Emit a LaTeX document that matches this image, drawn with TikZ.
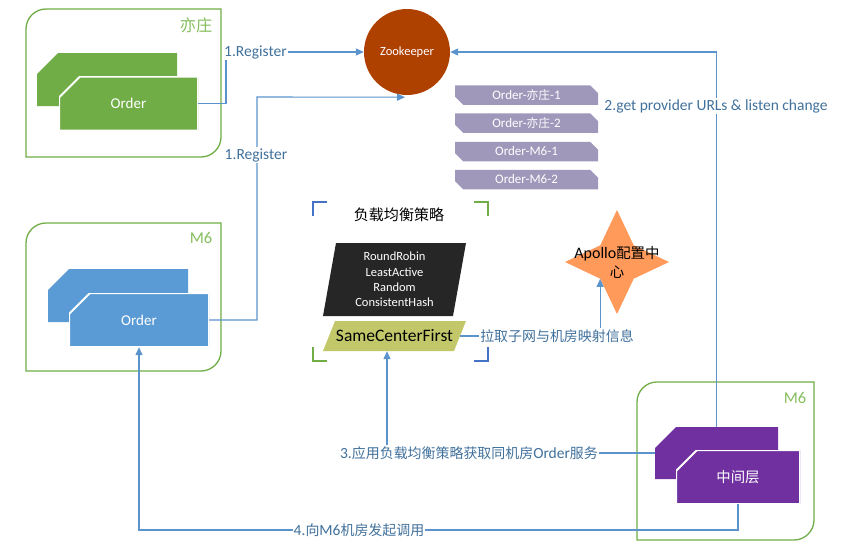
\documentclass[tikz,border=0pt]{standalone}
\usepackage{fontspec}
\setmainfont{Carlito}
\newfontfamily\cjk[Scale=0.9]{Noto Sans CJK SC}
\usetikzlibrary{shapes.geometric, arrows.meta}

\definecolor{roomgreen}{HTML}{70AD47}
\definecolor{roomtext}{HTML}{86BE5E}
\definecolor{ordergreen}{HTML}{70AD47}
\definecolor{orderblue}{HTML}{5B9BD5}
\definecolor{midpurple}{HTML}{7030A0}
\definecolor{zkbrown}{HTML}{AE4000}
\definecolor{taggray}{HTML}{9F98BA}
\definecolor{algoblack}{HTML}{262626}
\definecolor{scfyellow}{HTML}{C2C86A}
\definecolor{apolloorange}{HTML}{FF9A5A}
\definecolor{linkblue}{HTML}{5B94CC}
\definecolor{labelblue}{HTML}{41719C}
\definecolor{cornerblue}{HTML}{4472C4}

\tikzset{
	conn/.style={draw=linkblue, line width=1.1pt},
	linkarrow/.style={-{Triangle[length=8pt,width=7pt]}},
	lbl/.style={text=labelblue, font=\fontsize{15.5}{17}\selectfont, fill=white, inner sep=1pt},
	roomline/.style={draw=roomgreen, line width=1.3pt},
	roomlabel/.style={text=roomtext, font=\fontsize{16.5}{18}\selectfont},
	bracket/.style={line width=2pt},
	backbox/.style={minimum width=140pt, minimum height=53pt, inner sep=0pt,
		path picture={\fill[#1] ([xshift=21pt]path picture bounding box.north west) -- (path picture bounding box.north east) -- (path picture bounding box.south east) -- (path picture bounding box.south west) -- ([yshift=-21pt]path picture bounding box.north west) -- cycle;}},
	frontbox/.style={minimum width=140pt, minimum height=54pt, inner sep=0pt, text=white, font=\fontsize{15}{18}\selectfont,
		path picture={\filldraw[fill=#1, draw=white, line width=2pt] ([xshift=21pt]path picture bounding box.north west) -- (path picture bounding box.north east) -- (path picture bounding box.south east) -- (path picture bounding box.south west) -- ([yshift=-21pt]path picture bounding box.north west) -- cycle;}},
	tag/.style={minimum width=143pt, minimum height=19.5pt, inner sep=0pt, text=white, font=\fontsize{13}{14}\selectfont,
		path picture={\fill[taggray] (path picture bounding box.north west) -- ([xshift=-8pt]path picture bounding box.north east) -- ([yshift=-8pt]path picture bounding box.north east) -- (path picture bounding box.south east) -- ([xshift=8pt]path picture bounding box.south west) -- ([yshift=8pt]path picture bounding box.south west) -- cycle;}},
	para/.style args={#1/#2}{minimum width=143pt, inner sep=0pt, align=center,
		path picture={\fill[#1] ([xshift=#2]path picture bounding box.north west) -- (path picture bounding box.north east) -- ([xshift=-#2]path picture bounding box.south east) -- (path picture bounding box.south west) -- cycle;}}
}

% machine room frame: round corners top left and bottom right
\newcommand{\roomframe}[4]{%
	\draw[roomline] (#1,#2+20) .. controls (#1,#2+9) and (#1+9,#2) .. (#1+20,#2) -- (#3,#2) -- (#3,#4-20) .. controls (#3,#4-9) and (#3-9,#4) .. (#3-20,#4) -- (#1,#4) -- cycle;}

\begin{document}
\begin{tikzpicture}[x=1pt, y=-1pt]
	\useasboundingbox (0,0) rectangle (855,549);
	
	%rooms
	\roomframe{26}{9}{221}{157}
	\roomframe{26}{223}{221}{371}
	\roomframe{637}{382}{814}{540}
	\node[roomlabel, font=\fontsize{18}{20}\selectfont] (yzName) at (196,25) {\cjk 亦庄};
	\node[roomlabel] (m6Name) at (201,238) {M6};
	\node[roomlabel] (m6NameR) at (795,398) {M6};
	
	%services
	\node[backbox=ordergreen] (yzBack) at (107,79.5) {};
	\node[frontbox=ordergreen, minimum width=139pt] (orderYZ) at (128.5,103.5) {Order};
	\node[backbox=orderblue] (m6Back) at (118,295.5) {};
	\node[frontbox=orderblue] (orderM6) at (139,320) {Order};
	\node[backbox=midpurple, minimum width=123pt, minimum height=52pt] (midBack) at (716.5,453) {};
	\node[frontbox=midpurple, minimum width=124pt, font=\fontsize{16}{18}\selectfont] (mid) at (738,477) {\cjk 中间层};
	
	%registry
	\node[circle, fill=zkbrown, minimum size=86pt, inner sep=0pt, text=white, font=\fontsize{12.5}{14}\selectfont] (zk) at (407,52) {Zookeeper};
	\node[tag] (tagYZ1) at (526.5,95) {Order-{\cjk 亦庄}-1};
	\node[tag] (tagYZ2) at (526.5,123) {Order-{\cjk 亦庄}-2};
	\node[tag] (tagM61) at (526.5,151.5) {Order-M6-1};
	\node[tag] (tagM62) at (526.5,179.5) {Order-M6-2};
	
	%load balance
	\draw[bracket, cornerblue] (313,216) -- (313,202) -- (327,202);
	\draw[bracket, roomgreen] (474,202) -- (488,202) -- (488,216);
	\draw[bracket, roomgreen] (313,347) -- (313,361) -- (327,361);
	\draw[bracket, cornerblue] (488,347) -- (488,361) -- (474,361);
	\node[font=\cjk\fontsize{16.7}{18}\selectfont] (lbTitle) at (399,215) {负载均衡策略};
	\node[para={algoblack/13pt}, minimum height=73pt, text=white, font=\fontsize{12.5}{15.3}\selectfont] (algo) at (394.5,279.5) {RoundRobin\\LeastActive\\Random\\ConsistentHash};
	\node[para={scfyellow/12pt}, minimum height=30pt, font=\fontsize{17.5}{20}\selectfont] (scf) at (394.5,336) {SameCenterFirst};
	
	%config
	\node[star, star points=4, star point ratio=2.2, minimum size=104pt, inner sep=0pt, fill=apolloorange] (apollo) at (617,262) {};
	\node[align=center, font=\fontsize{16}{19}\selectfont] (apolloText) at (617,262) {Apollo{\cjk 配置中}\\{\cjk 心}};
	
	%arrows
	\coordinate (bendA) at (226,52);
	\coordinate (bendB) at (257,97);
	\coordinate (callRow) at (0,530);
	\draw[conn, linkarrow] (orderYZ.east) -| (bendA) -- (zk.west);
	\draw[conn, linkarrow] (orderM6.east) -| (bendB) -- ([xshift=-2pt,yshift=-2pt]zk.south);
	\draw[conn, linkarrow] (midBack.north) |- (zk.east);
	\draw[conn, linkarrow] (mid.south) |- (callRow -| orderM6.south) -- (orderM6.south);
	
	%labels
	\node[lbl, anchor=west] (regA) at (223,52) {1.Register};
	\node[lbl] (regB) at (256,155) {1.Register};
	\node[lbl] (getUrl) at (716,106) {2.get provider URLs \& listen change};
	\node[lbl] (callM6) at (359,530) {4.{\cjk 向}M6{\cjk 机房发起调用}};
	\node[lbl] (apply) at (469,453) {3.{\cjk 应用负载均衡策略获取同机房}Order{\cjk 服务}};
	\node[lbl] (pullInfo) at (557,336) {\cjk 拉取子网与机房映射信息};
	
	\coordinate (scfIn) at ([xshift=-7.5pt]scf.south);
	\draw[conn] (apply.east) -- (apply.east -| midBack.west);
	\draw[conn, linkarrow] (apply.north -| scfIn) -- (scfIn);
	\draw[conn] ([xshift=-6.5pt]scf.east) -- (pullInfo.west);
	\draw[conn, linkarrow] (pullInfo.north -| apollo.225) -- (apollo.225);
\end{tikzpicture}
\end{document}
